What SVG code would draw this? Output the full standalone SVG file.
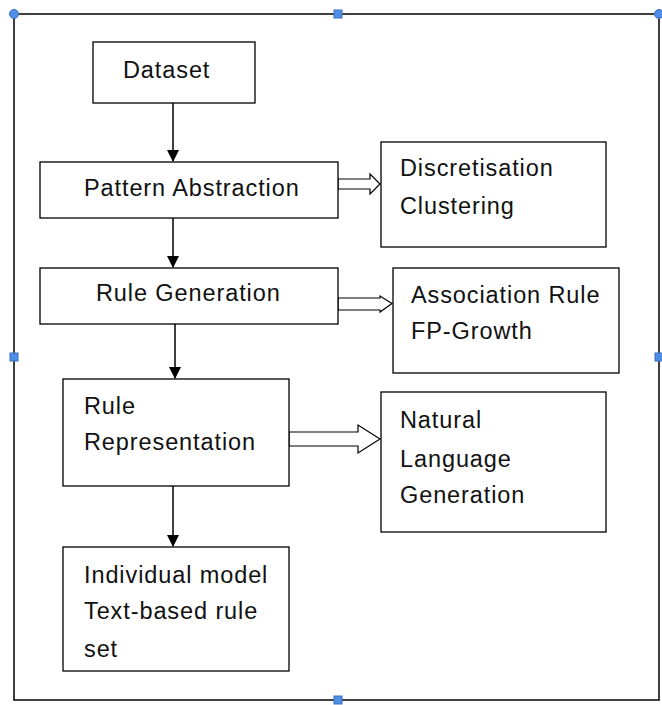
<svg xmlns="http://www.w3.org/2000/svg" width="662" height="705" viewBox="0 0 662 705">
<style>
.box{fill:#fff;stroke:#000;stroke-width:1.3}
.frame{fill:none;stroke:#000;stroke-width:1.5}
.hd{fill:#4f8ee6;stroke:#3a6fc0;stroke-width:1}
.t{font-family:"Liberation Sans",Arial,sans-serif;font-size:23.5px;letter-spacing:0.9px;fill:#111}
.ln{stroke:#000;stroke-width:1.5;fill:none}
.ha{fill:#fff;stroke:#000;stroke-width:1.2}
</style>
<defs>
<marker id="ah" markerWidth="12" markerHeight="12" refX="11" refY="6" orient="auto" markerUnits="userSpaceOnUse" viewBox="0 0 12 12">
<path d="M0,0 L12,6 L0,12 Z" fill="#000"/>
</marker>
</defs>
<rect class="frame" x="14" y="14" width="645" height="686"/>
<g id="handles">
<circle class="hd" cx="14" cy="14" r="4.5"/>
<circle class="hd" cx="659" cy="14" r="4.5"/>
<rect class="hd" x="334" y="10" width="8" height="8"/>
<rect class="hd" x="10" y="353" width="8" height="8"/>
<rect class="hd" x="655" y="353" width="8" height="8"/>
<rect class="hd" x="334" y="696" width="8" height="8"/>
</g>
<g id="connectors">
<line class="ln" x1="173" y1="103" x2="173" y2="161" marker-end="url(#ah)"/>
<line class="ln" x1="173" y1="218" x2="173" y2="267" marker-end="url(#ah)"/>
<line class="ln" x1="175" y1="324" x2="175" y2="378" marker-end="url(#ah)"/>
<line class="ln" x1="173" y1="486" x2="173" y2="546" marker-end="url(#ah)"/>
<path class="ha" d="M338,179 L370,179 L370,174 L380,184 L370,194 L370,189 L338,189 Z"/>
<path class="ha" d="M338,298 L380,298 L380,296 L392,303.5 L380,312 L380,310 L338,310 Z"/>
<path class="ha" d="M289,432 L358,432 L358,425 L380,439 L358,453 L358,446 L289,446 Z"/>
</g>
<g id="dataset">
<rect class="box" x="93" y="42" width="162" height="61"/>
<text class="t" x="123" y="78">Dataset</text>
</g>
<g id="pattern">
<rect class="box" x="40" y="162" width="298" height="56"/>
<text class="t" x="84" y="196">Pattern Abstraction</text>
</g>
<g id="discretisation">
<rect class="box" x="381" y="142" width="225" height="105"/>
<text class="t" x="400" y="176">Discretisation</text>
<text class="t" x="400" y="214">Clustering</text>
</g>
<g id="rulegen">
<rect class="box" x="40" y="268" width="298" height="56"/>
<text class="t" x="96" y="301">Rule Generation</text>
</g>
<g id="association">
<rect class="box" x="393" y="268" width="226" height="105"/>
<text class="t" x="411" y="303">Association Rule</text>
<text class="t" x="411" y="339">FP-Growth</text>
</g>
<g id="rulerep">
<rect class="box" x="63" y="379" width="226" height="107"/>
<text class="t" x="84" y="414">Rule</text>
<text class="t" x="84" y="450">Representation</text>
</g>
<g id="nlg">
<rect class="box" x="381" y="392" width="225" height="140"/>
<text class="t" x="400" y="428">Natural</text>
<text class="t" x="400" y="467">Language</text>
<text class="t" x="400" y="503">Generation</text>
</g>
<g id="individual">
<rect class="box" x="63" y="547" width="226" height="124"/>
<text class="t" x="84" y="583">Individual model</text>
<text class="t" x="84" y="619">Text-based rule</text>
<text class="t" x="84" y="657">set</text>
</g>
</svg>
